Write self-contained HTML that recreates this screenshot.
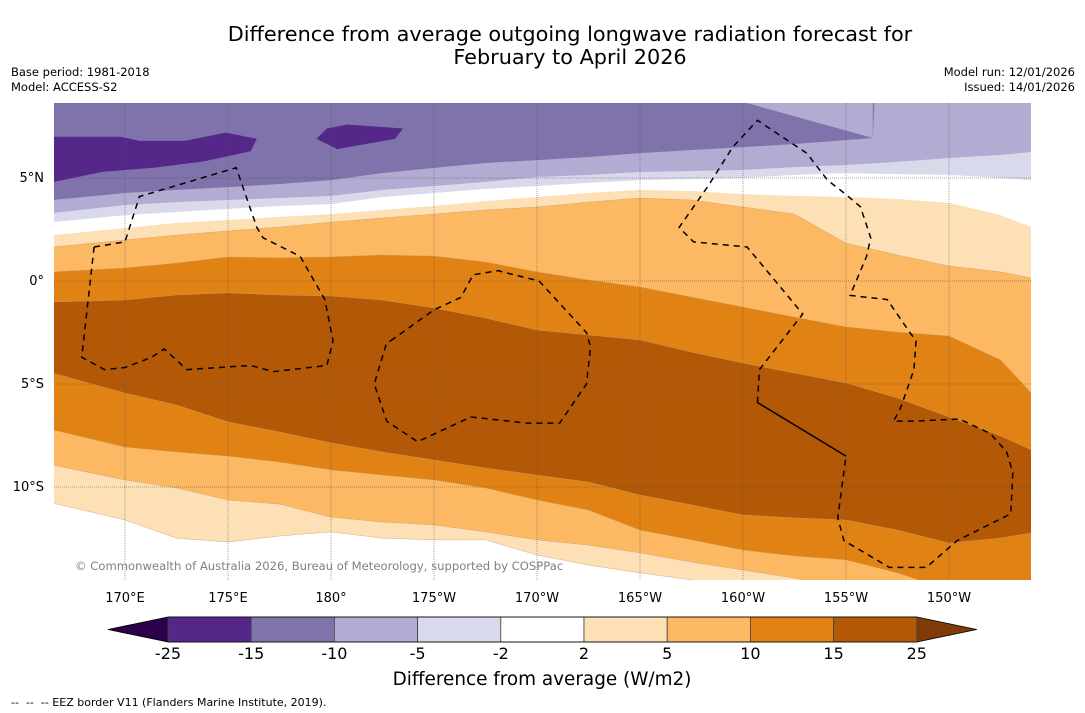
<!DOCTYPE html>
<html><head><meta charset="utf-8"><style>
body{margin:0;background:#fff;width:1085px;height:713px;overflow:hidden;font-family:"DejaVu Sans","Liberation Sans",sans-serif;}
svg{position:absolute;left:0;top:0}
</style></head><body>
<svg id="s" width="1085" height="713" viewBox="0 0 1085 713">
<text x="570" y="41" font-size="20.8" text-anchor="middle" fill="#000">Difference from average outgoing longwave radiation forecast for</text>
<text x="570" y="64" font-size="20.8" text-anchor="middle" fill="#000">February to April 2026</text>
<text x="11" y="76" font-size="11.5">Base period: 1981-2018</text>
<text x="11" y="91" font-size="11.5">Model: ACCESS-S2</text>
<text x="1075" y="76" font-size="11.5" text-anchor="end">Model run: 12/01/2026</text>
<text x="1075" y="91" font-size="11.5" text-anchor="end">Issued: 14/01/2026</text>
<defs><clipPath id="mc"><rect x="54" y="103" width="977" height="477"/></clipPath></defs>
<g id="map" clip-path="url(#mc)"></g>
<g id="axes"></g>
<g id="cbar"></g>
<text x="542" y="685" font-size="18.4" text-anchor="middle">Difference from average (W/m2)</text>
<text x="11" y="706" font-size="11" xml:space="preserve">--  --  -- EEZ border V11 (Flanders Marine Institute, 2019).</text>
</svg>
<script>
const lons=[166.5,170,172.5,175,177.5,180,182.5,185,187.5,190,192.5,195,197.5,200,202.5,205,207.5,210,212.5,214];
const b1Lons=[166.5,170,172.5,175,177.5,180,182.5,185,187.5,190,192.5,195,197.5,200,202.5,205,206.3,206.4,214];
const b1=[3.93,4.27,4.42,4.56,4.71,4.90,5.24,5.49,5.73,5.87,6.02,6.21,6.36,6.50,6.65,6.84,6.94,9,9];
const b2=[3.30,3.69,3.83,3.93,4.03,4.13,4.42,4.61,4.81,5.05,5.15,5.29,5.34,5.39,5.53,5.63,5.78,5.97,6.12,6.26];
const b3=[2.86,3.20,3.35,3.50,3.64,3.74,4.08,4.27,4.47,4.61,4.76,4.90,4.95,5.00,5.15,5.24,5.19,5.15,5.00,4.90];
const b4=[2.23,2.57,2.82,2.96,3.11,3.25,3.45,3.64,3.88,4.08,4.27,4.42,4.37,4.22,4.13,4.08,3.98,3.79,3.20,2.62];
const b5=[1.65,1.99,2.23,2.43,2.62,2.86,3.06,3.25,3.45,3.59,3.83,4.03,3.93,3.59,3.25,1.84,1.26,0.73,0.44,0.15];
const b6=[0.44,0.63,0.87,1.17,1.12,1.17,1.26,1.21,0.92,0.44,0.05,-0.29,-0.78,-1.26,-1.75,-2.23,-2.48,-2.67,-3.83,-5.44];
const b7=[-1.02,-0.92,-0.68,-0.58,-0.68,-0.73,-0.92,-1.31,-1.80,-2.38,-2.62,-2.86,-3.45,-3.98,-4.47,-4.95,-5.68,-6.60,-7.52,-8.20];
const b8=[-4.47,-5.44,-6.02,-6.84,-7.33,-7.86,-8.30,-8.69,-9.08,-9.42,-9.76,-10.39,-10.87,-11.36,-11.50,-11.60,-12.09,-12.72,-12.48,-12.23];
const b9=[-7.23,-8.06,-8.30,-8.50,-8.79,-9.17,-9.42,-9.66,-10.05,-10.63,-11.12,-12.09,-12.57,-13.06,-13.35,-13.54,-14.17,-15.0,-15.24,-15.24];
const b10=[-8.93,-9.66,-10.05,-10.63,-10.83,-11.46,-11.70,-11.84,-12.18,-12.57,-12.82,-13.20,-13.64,-14.03,-14.42,-15.0,-15.5,-15.5,-15.5,-15.5];
const b11=[-10.78,-11.60,-12.48,-12.67,-12.38,-12.18,-12.48,-12.57,-12.57,-13.30,-13.79,-14.17,-14.51,-15.0,-15.5,-15.5,-15.5,-15.5,-15.5,-15.5];
const levels=[-25,-15,-10,-5,-2,2,5,10,15,25];
const levelColors=["#542788","#8073ac","#b2abd2","#d8daeb","#ffffff","#fee0b6","#fdb863","#e08214","#b35806"];
const patchLeft=[[166.5,7.0],[169.8,7.0],[170.7,6.8],[172.9,6.8],[174.9,7.2],[176.4,6.9],[176.1,6.3],[173.8,5.8],[171.4,5.5],[168.9,5.3],[166.5,4.8]];
const patchMid=[[179.3,6.9],[179.8,7.4],[180.8,7.6],[183.5,7.4],[183.1,6.9],[180.3,6.4]];
const patchTopRight=[[198.9,9],[206.3,6.94],[206.3,9]];
const eezA=[[168.5,1.65],[170.0,1.9],[170.7,4.1],[175.4,5.5],[176.4,2.6],[176.7,2.1],[178.5,1.2],[179.7,-0.9],[180.1,-2.9],[179.8,-4.1],[177.2,-4.4],[176.1,-4.1],[173.0,-4.3],[171.9,-3.3],[171.3,-3.7],[170.0,-4.2],[169.0,-4.3],[167.9,-3.7],[168.5,1.65]];
const eezB=[[182.9,-2.9],[185.0,-1.4],[186.3,-0.8],[186.9,0.3],[188.1,0.5],[190.1,0.0],[192.4,-2.5],[192.6,-3.2],[192.4,-5.0],[191.1,-6.9],[189.5,-6.9],[186.8,-6.6],[184.2,-7.8],[182.7,-6.8],[182.1,-5.0],[182.7,-3.0],[182.9,-2.9]];
const eezC=[[200.7,-5.9],[200.8,-4.3],[202.9,-1.6],[200.2,1.65],[197.6,1.9],[196.9,2.6],[198.3,4.6],[199.5,6.5],[200.7,7.8],[203.1,6.2],[204.1,4.9],[205.0,4.2],[205.7,3.6],[206.2,2.1],[206.0,1.2],[205.2,-0.7],[207.0,-0.9],[208.1,-2.5],[208.4,-2.9],[208.3,-4.3],[207.6,-6.3],[207.3,-6.8],[208.4,-6.8],[210.5,-6.7],[212.0,-7.4],[212.8,-8.3],[213.1,-9.3],[213.0,-11.3],[210.4,-12.6],[208.9,-13.9],[207.1,-13.9],[204.9,-12.6],[204.6,-11.5],[205.0,-8.5]];
const eezSolid=[[205.0,-8.5],[200.7,-5.9]];
const lonTicks=[170,175,180,185,190,195,200,205,210];
const lonTickLabels=["170°E","175°E","180°","175°W","170°W","165°W","160°W","155°W","150°W"];
const latTicks=[5,0,-5,-10];
const latTickLabels=["5°N","0°","5°S","10°S"];

const NS="http://www.w3.org/2000/svg";
const X=lon=>331+(lon-180)*20.6;
const Y=lat=>281-lat*20.6;
function mk(tag,attrs,parent){const e=document.createElementNS(NS,tag);for(const k in attrs)e.setAttribute(k,attrs[k]);parent.appendChild(e);return e;}
const map=document.getElementById('map');
const bg=mk('rect',{x:54,y:103,width:977,height:477,fill:levelColors[1]},map);


const curves=[[b1Lons,b1],[lons,b2],[lons,b3],[lons,b4],[lons,b5],[lons,b6],[lons,b7],[lons,b8],[lons,b9],[lons,b10],[lons,b11]];
const fills=[levelColors[2],levelColors[3],levelColors[4],levelColors[5],levelColors[6],levelColors[7],levelColors[8],levelColors[7],levelColors[6],levelColors[5],levelColors[4]];
curves.forEach((c,i)=>{
  const [ls,la]=c;
  let pts=ls.map((l,j)=>X(l).toFixed(1)+','+Y(la[j]).toFixed(1));
  pts.push(X(ls[ls.length-1])+','+Y(-20));pts.push(X(ls[0])+','+Y(-20));
  const p=mk('polygon',{points:pts.join(' '),fill:fills[i],stroke:i<4?'none':'#c8a070','stroke-width':i<4?0:0.4},map);
  
  
});
function poly(arr,fill,name){const p=mk('polygon',{points:arr.map(a=>X(a[0])+','+Y(a[1])).join(' '),fill:fill},map);

}
poly(patchTopRight,levelColors[2],'band-top-right');
poly(patchLeft,levelColors[0],'strong-negative-patch-west');
poly(patchMid,levelColors[0],'strong-negative-patch-central');
lonTicks.forEach(l=>{const g=mk('line',{x1:X(l),x2:X(l),y1:103,y2:580,stroke:'#555','stroke-width':0.5,'stroke-dasharray':'1,1'},map);

});
latTicks.forEach(l=>{const g=mk('line',{x1:54,x2:1031,y1:Y(l),y2:Y(l),stroke:'#555','stroke-width':0.5,'stroke-dasharray':'1,1'},map);

});
function line(arr,dash,name){const p=mk('polyline',{points:arr.map(a=>X(a[0])+','+Y(a[1])).join(' '),fill:'none',stroke:'#000','stroke-width':1.5,'stroke-dasharray':dash},map);

}
line(eezA,'6,5','eez-border-tuvalu');
line(eezB,'6,5','eez-border-central');
line(eezC,'6,5','eez-border-east');
line(eezSolid,'none','eez-border-solid');
const wm=mk('text',{x:75,y:570,'font-size':11.6,fill:'#808080'},map);
wm.textContent='© Commonwealth of Australia 2026, Bureau of Meteorology, supported by COSPPac';


const axes=document.getElementById('axes');
lonTicks.forEach((l,i)=>{const t=mk('text',{x:X(l),y:602,'font-size':13,'text-anchor':'middle'},axes);t.textContent=lonTickLabels[i];

});
latTicks.forEach((l,i)=>{const t=mk('text',{x:44,y:Y(l)+4,'font-size':13,'text-anchor':'end'},axes);t.textContent=latTickLabels[i];

});
const cb=document.getElementById('cbar');
const cx0=168,cw=83.2,cy=617,ch=25;
const lt=mk('polygon',{points:`108,${cy+ch/2} ${cx0},${cy} ${cx0},${cy+ch}`,fill:'#2d004b'},cb);


const rt=mk('polygon',{points:`${cx0+9*cw},${cy} ${cx0+9*cw+60},${cy+ch/2} ${cx0+9*cw},${cy+ch}`,fill:'#7f3b08'},cb);


levelColors.forEach((c,i)=>{const r=mk('rect',{x:cx0+i*cw,y:cy,width:cw,height:ch,fill:c,stroke:'#444','stroke-width':0.8},cb);

});
mk('polygon',{points:`108,${cy+ch/2} ${cx0},${cy} ${cx0+9*cw},${cy} ${cx0+9*cw+60},${cy+ch/2} ${cx0+9*cw},${cy+ch} ${cx0},${cy+ch}`,fill:'none',stroke:'#000','stroke-width':0.8},cb);
levels.forEach((v,i)=>{const t=mk('text',{x:cx0+i*cw,y:659,'font-size':16,'text-anchor':'middle'},cb);t.textContent=v;

});
</script>
</body></html>
